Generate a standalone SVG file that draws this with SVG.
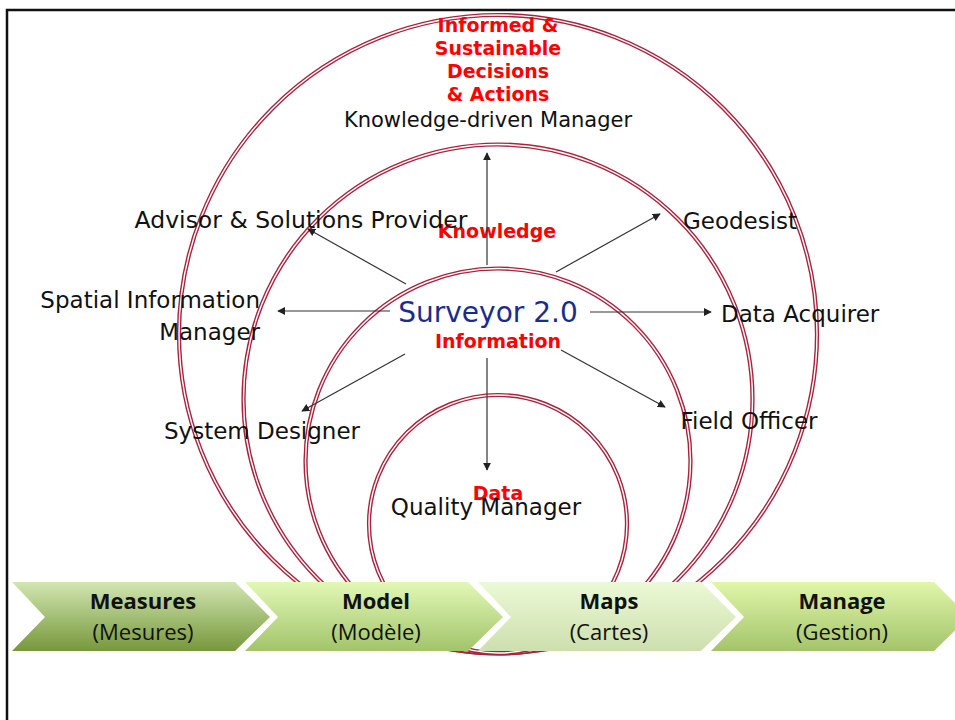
<svg xmlns="http://www.w3.org/2000/svg" width="955" height="720" viewBox="0 0 955 720">
<style>
.ring{fill:none;stroke:#a8243e;stroke-width:4.2}
.ringin{fill:none;stroke:#ffffff;stroke-width:1.4}
.lbl{font-family:"DejaVu Sans",Verdana,sans-serif;font-size:23px;fill:#111}
.red{font-family:"DejaVu Sans",Verdana,sans-serif;font-size:19px;font-weight:bold;fill:#ff0000;text-anchor:middle}
.conn line{stroke:#333;stroke-width:1.2;marker-end:url(#ah)}
.chb{font-family:"Open Sans","Liberation Sans",sans-serif;font-size:22px;font-weight:bold;fill:#111;text-anchor:middle}
.chr{font-family:"Open Sans","Liberation Sans",sans-serif;font-size:22px;fill:#111;text-anchor:middle}
</style>
<defs>
<marker id="ah" viewBox="0 0 10 10" refX="9" refY="5" markerWidth="8" markerHeight="8" markerUnits="userSpaceOnUse" orient="auto">
<path d="M0,0 L10,5 L0,10 z" fill="#222"/>
</marker>
<linearGradient id="g1" x1="0" y1="0" x2="0" y2="1"><stop offset="0" stop-color="#d2e6b2"/><stop offset="1" stop-color="#76983a"/></linearGradient>
<linearGradient id="g2" x1="0" y1="0" x2="0" y2="1"><stop offset="0" stop-color="#e2f8b6"/><stop offset="1" stop-color="#a2c46a"/></linearGradient>
<linearGradient id="g3" x1="0" y1="0" x2="0" y2="1"><stop offset="0" stop-color="#ecf9d6"/><stop offset="1" stop-color="#cddfae"/></linearGradient>
<linearGradient id="g4" x1="0" y1="0" x2="0" y2="1"><stop offset="0" stop-color="#e0f6aa"/><stop offset="1" stop-color="#a4c46a"/></linearGradient>
</defs>
<rect width="955" height="720" fill="#fff"/>
<path d="M7,720 L7,10 L955,10" fill="none" stroke="#111" stroke-width="2.5"/>

<g id="rings">
<circle class="ring" cx="498" cy="334" r="319"/><circle class="ringin" cx="498" cy="334" r="319"/>
<circle class="ring" cx="498" cy="399" r="254.5"/><circle class="ringin" cx="498" cy="399" r="254.5"/>
<circle class="ring" cx="498" cy="461" r="192.5"/><circle class="ringin" cx="498" cy="461" r="192.5"/>
<circle class="ring" cx="498" cy="524" r="129"/><circle class="ringin" cx="498" cy="524" r="129"/>
</g>

<g id="levels">
<text class="red" x="498" y="32">Informed &amp;</text>
<text class="red" x="498" y="55">Sustainable</text>
<text class="red" x="498" y="78">Decisions</text>
<text class="red" x="498" y="101">&amp; Actions</text>
<text class="red" x="497" y="238">Knowledge</text>
<text class="red" x="498" y="348">Information</text>
<text class="red" x="498" y="500">Data</text>
</g>

<g class="conn" id="connectors">
<line x1="487" y1="265" x2="487" y2="153"/>
<line x1="406" y1="284" x2="308" y2="229"/>
<line x1="556" y1="272" x2="660" y2="214"/>
<line x1="390" y1="311" x2="278" y2="311"/>
<line x1="590" y1="312" x2="711" y2="312"/>
<line x1="405" y1="354" x2="302" y2="411"/>
<line x1="561" y1="350" x2="665" y2="407"/>
<line x1="487" y1="358" x2="487" y2="470"/>
</g>

<g id="center"><text x="488" y="322" font-family="DejaVu Sans,Verdana,sans-serif" font-size="28" fill="#1a2c90" text-anchor="middle">Surveyor 2.0</text></g>
<g id="n-kdm"><text class="lbl" x="488" y="127" text-anchor="middle" style="font-size:21px">Knowledge-driven Manager</text></g>
<g id="n-advisor"><text class="lbl" x="301" y="228" text-anchor="middle" style="font-size:23.5px">Advisor &amp; Solutions Provider</text></g>
<g id="n-geodesist"><text class="lbl" x="740" y="229" text-anchor="middle">Geodesist</text></g>
<g id="n-sim"><text class="lbl" x="260" y="308" text-anchor="end">Spatial Information</text><text class="lbl" x="260" y="340" text-anchor="end">Manager</text></g>
<g id="n-acquirer"><text class="lbl" x="721" y="322">Data Acquirer</text></g>
<g id="n-designer"><text class="lbl" x="262" y="439" text-anchor="middle">System Designer</text></g>
<g id="n-field"><text class="lbl" x="749" y="429" text-anchor="middle">Field Officer</text></g>
<g id="n-quality"><text class="lbl" x="486" y="515" text-anchor="middle">Quality Manager</text></g>

<g id="ch-measures"><path d="M12,582 L235,582 L270,617 L235,651 L12,651 L45,617 Z" fill="url(#g1)"/><text class="chb" x="143" y="609">Measures</text><text class="chr" x="143" y="640">(Mesures)</text></g>
<g id="ch-model"><path d="M245,582 L468,582 L503,617 L468,651 L245,651 L278,617 Z" fill="url(#g2)"/><text class="chb" x="376" y="609">Model</text><text class="chr" x="376" y="640">(Modèle)</text></g>
<g id="ch-maps"><path d="M478,582 L701,582 L736,617 L701,651 L478,651 L511,617 Z" fill="url(#g3)"/><text class="chb" x="609" y="609">Maps</text><text class="chr" x="609" y="640">(Cartes)</text></g>
<g id="ch-manage"><path d="M711,582 L934,582 L969,617 L934,651 L711,651 L744,617 Z" fill="url(#g4)"/><text class="chb" x="842" y="609">Manage</text><text class="chr" x="842" y="640">(Gestion)</text></g>
</svg>
